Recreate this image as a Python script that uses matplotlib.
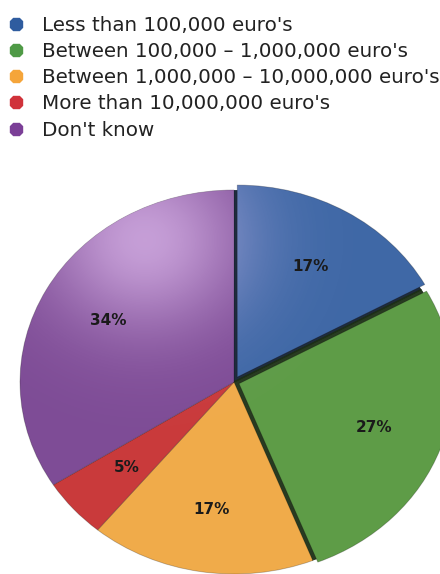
import numpy as np
import matplotlib.pyplot as plt
from matplotlib.lines import Line2D
from matplotlib.patches import Shadow

# data
categories = ["Less than 100,000 euro's",
              "Between 100,000 \u2013 1,000,000 euro's",
              "Between 1,000,000 \u2013 10,000,000 euro's",
              "More than 10,000,000 euro's",
              "Don't know"]
shares = [17, 27, 17, 5, 34]

# styling
explode = [0.03, 0.025, 0, 0, 0]
slice_colors = ['#3f68a6', '#5e9c47', '#f0ab4a', '#c93a3b', '#7e4c96']
legend_colors = ['#2f5c9f', '#4f9a46', '#f5a53a', '#d0323a', '#7b3f97']

plt.rcParams['font.family'] = ['DejaVu Sans']

W, H = 440, 574
fig = plt.figure(figsize=(W / 100, H / 100), dpi=100)

# the pie in the original is stretched sideways, so use an axes with auto aspect
cx, cy, rx, ry = 234, H - 382, 214, 192
xl, yl = 1.1, 1.05
ax = fig.add_axes([(cx - xl * rx) / W, (cy - yl * ry) / H,
                   2 * xl * rx / W, 2 * yl * ry / H])

wedges, texts, pcts = ax.pie(
    shares, colors=slice_colors, explode=explode,
    startangle=90, counterclock=False,
    autopct=lambda p: f'{p:.0f}%', pctdistance=0.67,
    wedgeprops=dict(edgecolor=(0, 0, 0, 0.25), linewidth=0.6),
    textprops=dict(fontsize=11, fontweight='heavy', color='#1a1a1a'))

# dark shadow in the gaps left by the pulled-out slices:
# the shadow sits where the slice would be without the pull
for w, e in zip(wedges, explode):
    if e > 0:
        mid = np.deg2rad((w.theta1 + w.theta2) / 2)
        s = Shadow(w, -0.8 * e * np.cos(mid), -0.8 * e * np.sin(mid),
                   shade=0.7, alpha=0.95)
        s.set_zorder(w.get_zorder() - 0.1)
        ax.add_patch(s)

# soft light spot at the upper left, clipped to each slice
gx, gy = np.meshgrid(np.linspace(-xl, xl, 300), np.linspace(yl, -yl, 300))
d2 = (gx + 0.42) ** 2 + (gy - 0.74) ** 2
glow = np.zeros((300, 300, 4))
glow[..., :3] = [0.95, 0.82, 1.0]
glow[..., 3] = 0.62 * np.exp(-d2 / (2 * 0.33 ** 2))
for w in wedges:
    im = ax.imshow(glow, extent=(-xl, xl, -yl, yl), zorder=1.5,
                   aspect='auto', interpolation='bilinear')
    im.set_clip_path(w)

for t in pcts:
    t.set_zorder(3)

ax.set_aspect('auto')
ax.set_xlim(-xl, xl)
ax.set_ylim(-yl, yl)
ax.axis('off')

handles = [Line2D([], [], ls='none', marker='8', ms=10, mfc=c, mec=c)
           for c in legend_colors]
fig.legend(handles, categories, loc='upper left',
           bbox_to_anchor=(6 / W, 1 - 16 / H), frameon=False, fontsize=14.3,
           labelcolor='#222222', handlelength=1.0, handletextpad=0.82,
           labelspacing=0.36, borderpad=0, borderaxespad=0)

fig.savefig('out.png', dpi=100)
